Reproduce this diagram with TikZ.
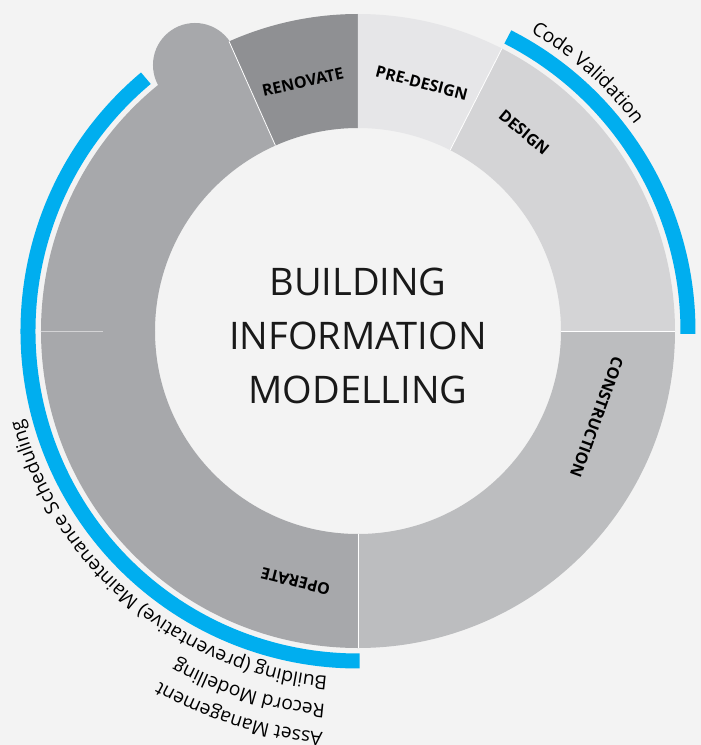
\documentclass[tikz,border=0pt]{standalone}
\usepackage{fontspec}
\setmainfont{Open Sans}
\usetikzlibrary{decorations.text}

\definecolor{bgcol}{HTML}{F3F3F3}
\definecolor{renovatecol}{HTML}{8F9093}
\definecolor{predesigncol}{HTML}{E6E6E8}
\definecolor{designcol}{HTML}{D4D4D6}
\definecolor{constructcol}{HTML}{BCBDBF}
\definecolor{operatecol}{HTML}{A7A8AB}
\definecolor{bimblue}{HTML}{00AEEF}

\newcommand{\arcfont}{\fontsize{19.2}{22}\selectfont}

% one piece of the ring: start angle, end angle, colour
\newcommand{\ringpart}[3]{%
  \fill[#3] (#1:\rin pt) arc[start angle=#1, end angle=#2, radius=\rin pt]
    -- (#2:\rout pt) arc[start angle=#2, end angle=#1, radius=\rout pt] -- cycle;}

\begin{document}
\begin{tikzpicture}

\tikzstyle{every node}=[font=\bfseries\fontsize{16}{19}\selectfont, text=black]
\tikzstyle{sep}=[white, line width=0.8pt]
\tikzstyle{band}=[bimblue, line width=15pt]

\pgfmathsetmacro\rin{203}
\pgfmathsetmacro\rout{317}
\pgfmathsetmacro\rband{330}

\useasboundingbox[fill=bgcol] (-358pt,-414pt) rectangle (343pt,331pt);

% ring
\ringpart{114}{180}{operatecol}
\fill[operatecol] (121.5:312pt) circle[radius=42pt];
\ringpart{180}{270}{operatecol}
\ringpart{90}{114}{renovatecol}
\ringpart{63}{90}{predesigncol}
\ringpart{0}{63}{designcol}
\ringpart{-90}{0}{constructcol}

\draw[sep] (114:\rin pt) -- (114:\rout pt);
\draw[sep] (63:\rin pt) -- (63:\rout pt);
\draw[sep] (0:\rin pt) -- (0:\rout pt);
\draw[sep] (-90:\rin pt) -- (-90:\rout pt);
\draw[sep, opacity=0.5] (180:\rout pt) -- (180:255pt);

% blue bands
\draw[band] (63:\rband pt) arc[start angle=63, end angle=-0.5, radius=\rband pt];
\draw[band] (130:\rband pt) arc[start angle=130, end angle=270.3, radius=\rband pt];

% stage labels
\node[rotate=12.5] (renovate) at (102.5:255pt) {RENOVATE};
\node[rotate=-14.4] (predesign) at (75.6:256pt) {PRE-DESIGN};
\node[rotate=-39.8] (design) at (50.1:259pt) {DESIGN};
\node[rotate=-110] (construction) at (-19.9:254pt) {CONSTRUCTION};
\node[rotate=166] (operate) at (256:258pt) {OPERATE};

\node[font=\fontsize{38}{54}\selectfont, text=black!90, align=center] (bim) at (0,-5pt)
  {BUILDING\\INFORMATION\\MODELLING};

% texts round the bands
\path[decorate, decoration={text along path, text={|\arcfont|Code Validation}}]
  (60:345pt) arc[start angle=60, end angle=20, radius=345pt];

\path[decorate, decoration={text along path,
  text={|\arcfont|Building (preventative) Maintenance Scheduling}}]
  (265:347pt) arc[start angle=265, end angle=150, radius=347pt];
\path[decorate, decoration={text along path, text={|\arcfont|Record Modelling}}]
  (265:375pt) arc[start angle=265, end angle=200, radius=375pt];
\path[decorate, decoration={text along path, text={|\arcfont|Asset Management}}]
  (265:403pt) arc[start angle=265, end angle=200, radius=403pt];

\end{tikzpicture}
\end{document}
